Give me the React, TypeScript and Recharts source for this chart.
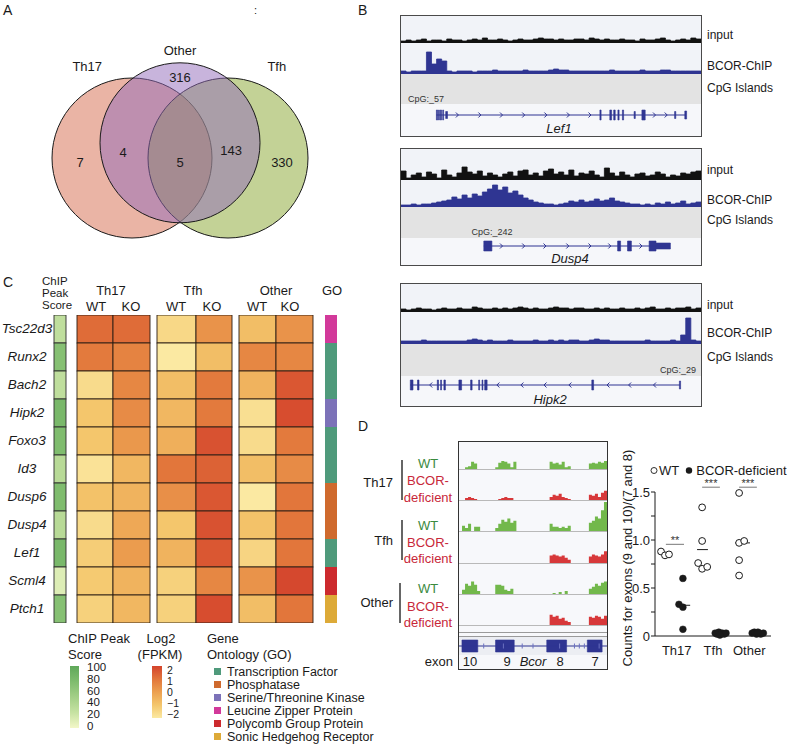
import React from "react";
import {
  AreaChart, Area, ComposedChart, ScatterChart, Scatter,
  XAxis, YAxis, ReferenceArea, ReferenceLine, ReferenceDot,
} from "recharts";

const FONT = '"Liberation Sans", Arial, Helvetica, sans-serif';
const NONE = { top: 0, right: 0, bottom: 0, left: 0 };
const INK = "#1a1a1a";
const BLUE = "#2f3592";
const GREEN = "#72b84b";
const RED = "#d7383a";

// ---------- A: Venn
const vennSets = ["Th17", "Tfh", "Other"];
const vennCenters = [[-0.6, 0], [0.6, 0], [0, 0.19]];
const vennFills = ["#d5694b", "#87a52d", "#9169b9"];
const vennLabelPos = [[-1.16, 1.15], [1.21, 1.15], [0, 1.34]];
const vennCounts = ["7", "4", "5", "143", "330", "316"];
const vennCountPos = [[-1.25, -0.05], [-0.71, 0.075], [0, -0.06], [0.64, 0.09], [1.275, -0.05], [0, 1.01]];

// ---------- B: tracks (bins across the locus)
const lef1Input = [2,3,2,3,4,2,3,3,2,4,3,3,2,3,4,3,5,3,3,4,3,2,3,4,3,3,4,5,4,4,3,4,3,3,4,4,3,5,4,3,4,3,3,4,3,3,2,4,3,3,4,5,3,2,3,4,3,5,4,4];
const lef1Chip = [3,2,3,3,3,22,10,15,13,3,2,3,3,3,2,3,3,3,4,3,3,3,3,3,4,3,3,3,3,4,5,4,4,3,3,3,3,3,3,3,3,4,3,3,3,3,3,4,3,3,3,4,4,3,3,3,3,3,3,3];
const lef1Cpg = [[0.083, 0.088], [0.118, 0.13]];
const lef1Intron = [0.118, 0.95];
const lef1Exons = [[0.118,0.122,1],[0.125,0.128,1],[0.131,0.135,1],[0.139,0.142,1],[0.149,0.155,0.7],[0.663,0.667,1],[0.696,0.702,1],[0.709,0.714,1],[0.723,0.727,1],[0.738,0.742,1],[0.777,0.781,0.7],[0.803,0.814,1],[0.912,0.916,0.7],[0.946,0.952,0.8]];
const lef1Marks = [0.188,0.263,0.335,0.409,0.483,0.558,0.63,0.845,0.884];

const dusp4Input = [9,2,5,7,3,8,6,2,10,5,3,7,13,8,6,9,4,7,5,3,6,8,4,9,10,5,7,4,9,11,6,8,5,10,4,7,6,9,5,3,12,7,4,8,5,3,6,7,4,5,8,6,3,5,4,7,6,8,9,5];
const dusp4Chip = [2,2,3,2,3,3,4,5,6,7,10,8,12,9,13,11,15,18,22,17,20,14,16,12,9,7,5,4,3,3,2,3,4,6,5,7,5,6,8,6,7,9,6,5,4,3,3,2,3,2,4,3,5,3,4,6,3,4,5,4];
const dusp4Cpg = [[0.224, 0.385]];
const dusp4Intron = [0.276, 0.895];
const dusp4Exons = [[0.276,0.303,1],[0.722,0.732,1],[0.755,0.768,1],[0.827,0.85,1],[0.85,0.898,0.6]];
const dusp4Marks = [0.335,0.409,0.48,0.556,0.63,0.696,0.8];

const hipk2Input = [3,2,3,4,3,3,2,3,4,3,3,4,3,3,5,4,3,3,4,3,4,3,4,5,4,3,4,3,3,4,5,4,4,3,4,4,3,3,4,3,4,3,3,4,3,3,4,3,4,5,3,3,4,3,4,4,5,3,4,3];
const hipk2Chip = [3,3,3,3,4,3,3,3,3,3,3,3,3,4,5,4,3,4,3,3,3,4,3,3,3,3,4,3,3,4,3,4,3,4,4,3,3,4,5,4,4,3,3,3,3,3,3,3,4,3,3,3,3,4,3,9,26,4,3,3];
const hipk2Cpg = [[0.928, 0.933]];
const hipk2Intron = [0.031, 0.93];
const hipk2Exons = [[0.031,0.04,1],[0.055,0.06,1],[0.121,0.125,1],[0.132,0.135,1],[0.143,0.148,1],[0.193,0.202,1],[0.232,0.237,1],[0.259,0.262,1],[0.27,0.273,1],[0.279,0.287,1],[0.636,0.642,1],[0.928,0.932,0.8]];
const hipk2Marks = [0.099,0.323,0.403,0.48,0.563,0.69,0.762,0.845];

// ---------- C: heatmap
const genes = ["Tsc22d3","Runx2","Bach2","Hipk2","Foxo3","Id3","Dusp6","Dusp4","Lef1","Scml4","Ptch1"];
const chipScore = [30,70,30,80,75,35,75,35,80,12,70];
const th17Wt = [1.2,0.9,-1.6,-1.0,-1.0,-1.8,-0.9,-1.6,-1.2,-1.1,-1.3];
const th17Ko = [1.2,0.7,0.6,0.5,0.2,-0.6,-0.5,-0.2,0.1,-0.5,-0.6];
const tfhWt = [-1.5,-2.0,-0.8,-0.6,-0.4,1.0,0.4,-1.0,-0.5,-1.3,-1.3];
const tfhKo = [0.3,-0.8,0.9,0.9,1.7,1.4,1.6,1.7,1.6,0.6,1.8];
const otherWt = [-0.8,0.6,-0.5,-1.7,-1.6,-0.8,-2.0,-0.9,-1.4,0.3,-0.8];
const otherKo = [0.3,0.6,1.6,1.8,0.9,0.5,1.0,1.0,1.0,1.9,1.0];
const goTerms = ["Transcription Factor","Phosphatase","Serine/Threonine Kinase","Leucine Zipper Protein","Polycomb Group Protein","Sonic Hedgehog Receptor"];
const goColors = ["#4f9a7b","#cf6a2e","#7c72b8","#d2399a","#cc2a2e","#ddaa38"];
const geneGo = [3,0,0,2,0,0,1,1,0,4,5];
const chipTicks = ["100","80","60","40","20","0"];
const log2Ticks = ["2","1","0","\u22121","\u22122"];

// ---------- D: Bcor coverage (bins across exons 10..7)
const th17WtCov = [0,0,2,3,8,6,0,0,0,0,0,0,2,7,9,8,6,2,8,0,0,0,0,0,0,0,0,0,0,0,8,6,7,5,8,2,3,0,0,0,0,0,0,6,7,6,8,7,9,0];
const th17KoCov = [0,0,2,3,2,1,0,0,0,0,0,0,0,1,2,3,2,2,0,0,0,0,0,0,0,0,0,0,0,0,3,5,4,6,3,2,1,0,0,0,0,0,0,5,4,6,3,7,9,0];
const tfhWtCov = [0,5,3,7,0,4,4,0,0,0,0,0,3,7,11,9,12,8,10,0,0,0,0,0,0,0,0,0,0,0,7,4,4,3,4,3,5,0,0,0,0,0,0,8,10,14,12,20,28,0];
const tfhKoCov = [0,0,0,0,0,0,0,0,0,0,0,0,0,0,0,0,0,0,0,0,0,0,0,0,0,0,0,0,0,0,7,8,7,6,7,5,3,0,0,0,0,0,0,6,8,7,6,8,11,0];
const otherWtCov = [0,4,10,8,12,9,3,0,0,0,0,0,9,9,8,4,3,5,0,0,0,0,0,0,0,0,0,0,0,0,0,1,0,2,0,3,0,0,0,0,0,0,0,5,7,10,8,11,12,0];
const otherKoCov = [0,0,0,0,0,0,0,0,0,0,0,0,0,0,0,0,0,0,0,0,0,0,0,0,0,0,0,0,0,0,10,8,9,6,7,4,3,0,0,0,0,0,0,8,7,9,8,6,9,0];
const bcorExons = [[0.02,0.127,1.2],[0.247,0.373,1.2],[0.593,0.727,1.2],[0.867,0.967,1.2]];
const bcorMarks = [0.167,0.3,0.427,0.5,0.68,0.78,0.813,0.847,0.947];
const exonNames = ["10","9","8","7"];

// ---------- D: exon ratio scatter
const dGroups = ["Th17","Tfh","Other"];
const wtPoints = [[0.566,0.88],[0.676,0.84],[0.786,0.85],[1.59,0.76],[1.70,0.70],[1.84,0.72],[1.70,0.99],[1.70,1.34],[2.72,1.49],[2.72,0.97],[2.86,0.99],[2.72,0.79],[2.72,0.63]];
const koPoints = [[1.17,0.60],[1.06,0.33],[1.17,0.30],[1.17,0.07],[2.06,0.03],[2.11,0.02],[2.16,0.04],[2.21,0.02],[2.26,0.03],[2.31,0.02],[2.36,0.03],[2.19,0.01],[3.08,0.03],[3.14,0.04],[3.2,0.02],[3.26,0.03],[3.32,0.02],[3.39,0.03],[3.24,0.04]];
const medians = [[0.48,0.87,0.86],[1.09,1.37,0.32],[1.56,1.86,0.90],[2.61,3.02,0.97]];
const sigBars = [[0.70,1.20,0.955,"**"],[1.70,2.19,1.55,"***"],[2.72,3.21,1.55,"***"]];

// ---------- helpers
function hex(c: string) {
  return [1, 3, 5].map((i) => parseInt(c.slice(i, i + 2), 16));
}
function ramp(stops: string[], t: number) {
  const tt = Math.max(0, Math.min(1, t)) * (stops.length - 1);
  const i = Math.min(stops.length - 2, Math.floor(tt));
  const f = tt - i;
  const a = hex(stops[i]), b = hex(stops[i + 1]);
  return `rgb(${a.map((v, k) => Math.round(v + (b[k] - v) * f)).join(",")})`;
}
const LOG2_STOPS = ["#fbe9a2", "#f4c66c", "#eca050", "#e2763b", "#d4432c"];
const CHIP_STOPS = ["#f3f7c8", "#c6e2a2", "#a3cf87", "#7fbc6e", "#5fa85a"];

function Txt({ x, y, children, anchor = "start", size = 13, color = INK, italic = false }: any) {
  const tx = anchor === "middle" ? "-50%" : anchor === "end" ? "-100%" : "0";
  return (
    <div style={{ position: "absolute", left: x, top: y, transform: `translate(${tx}, -50%)`, fontSize: size, color, fontStyle: italic ? "italic" : "normal", whiteSpace: "nowrap", lineHeight: 1 }}>
      {children}
    </div>
  );
}

function Abs({ x, y, children }: any) {
  return <div style={{ position: "absolute", left: x, top: y }}>{children}</div>;
}

// ---------- Venn
const VENN_W = 360, VENN_H = 250;
const VENN_X = [-2.25, 2.25], VENN_Y = [-1.15, 1.975];
const VENN_R = VENN_W / (VENN_X[1] - VENN_X[0]);

function VennCircle(p: any) {
  return <circle cx={p.cx} cy={p.cy} r={VENN_R} fill={p.payload.fill} fillOpacity={0.5} stroke={INK} strokeWidth={1} />;
}
function PointText(p: any) {
  return (
    <text x={p.cx} y={p.cy} textAnchor="middle" dominantBaseline="central" fontSize={13} fill={INK} fontFamily={FONT}>
      {p.payload.label}
    </text>
  );
}

function Venn() {
  const circles = vennSets.map((s, i) => ({ x: vennCenters[i][0], y: vennCenters[i][1], fill: vennFills[i] }));
  const names = vennSets.map((s, i) => ({ x: vennLabelPos[i][0], y: vennLabelPos[i][1], label: s }));
  const counts = vennCounts.map((c, i) => ({ x: vennCountPos[i][0], y: vennCountPos[i][1], label: c }));
  return (
    <ScatterChart width={VENN_W} height={VENN_H} margin={NONE}>
      <XAxis type="number" dataKey="x" domain={VENN_X} hide />
      <YAxis type="number" dataKey="y" domain={VENN_Y} hide />
      <Scatter data={circles} shape={VennCircle} isAnimationActive={false} />
      <Scatter data={names} shape={PointText} isAnimationActive={false} />
      <Scatter data={counts} shape={PointText} isAnimationActive={false} />
    </ScatterChart>
  );
}

// ---------- tracks
function Signal({ x, y, w, h, values, max, color, line = true }: any) {
  const data = values.map((v: number, i: number) => ({ i, v }));
  return (
    <Abs x={x} y={y}>
      <AreaChart width={w} height={h} data={data} margin={NONE}>
        <XAxis dataKey="i" type="number" domain={[0, values.length - 1]} hide />
        <YAxis type="number" domain={[0, max]} hide />
        <Area type="stepAfter" dataKey="v" stroke={line ? color : "none"} strokeWidth={0.8} fill={color} fillOpacity={1} isAnimationActive={false} dot={false} activeDot={false} />
      </AreaChart>
    </Abs>
  );
}

function Chevron(dir: number, color: string) {
  return (p: any) =>
    dir > 0 ? (
      <path d={`M${p.cx - 1.5},${p.cy - 2.5} L${p.cx + 1},${p.cy} L${p.cx - 1.5},${p.cy + 2.5}`} fill="none" stroke={color} strokeWidth={1} />
    ) : dir < 0 ? (
      <path d={`M${p.cx + 1.5},${p.cy - 2.5} L${p.cx - 1},${p.cy} L${p.cx + 1.5},${p.cy + 2.5}`} fill="none" stroke={color} strokeWidth={1} />
    ) : (
      <line x1={p.cx} x2={p.cx} y1={p.cy - 2.5} y2={p.cy + 2.5} stroke={color} strokeWidth={1} />
    );
}

function GeneModel({ x, y, w, h, intron, exons, marks, dir, markColor = BLUE }: any) {
  const pts = marks.map((m: number) => ({ x: m, y: 0 }));
  return (
    <Abs x={x} y={y}>
      <ComposedChart width={w} height={h} margin={NONE}>
        <XAxis dataKey="x" type="number" domain={[0, 1]} hide />
        <YAxis dataKey="y" type="number" domain={[-2.2, 2.2]} hide />
        <ReferenceLine segment={[{ x: intron[0], y: 0 }, { x: intron[1], y: 0 }]} stroke={BLUE} strokeWidth={1.2} />
        {exons.map((e: number[], i: number) => (
          <ReferenceArea key={i} x1={e[0]} x2={e[1]} y1={-e[2]} y2={e[2]} fill={BLUE} fillOpacity={1} stroke={BLUE} strokeWidth={0.6} />
        ))}
        <Scatter data={pts} shape={Chevron(dir, markColor)} isAnimationActive={false} />
      </ComposedChart>
    </Abs>
  );
}

function CpgBand({ x, y, w, h, blocks }: any) {
  return (
    <Abs x={x} y={y}>
      <ComposedChart width={w} height={h} margin={NONE}>
        <XAxis type="number" dataKey="x" domain={[0, 1]} hide />
        <YAxis type="number" domain={[0, 1]} hide />
        {blocks.map((b: number[], i: number) => (
          <ReferenceArea key={i} x1={b[0]} x2={b[1]} y1={0.55} y2={0.82} fill="#a2469c" fillOpacity={1} stroke="#a2469c" strokeWidth={0.6} />
        ))}
      </ComposedChart>
    </Abs>
  );
}

const B_LEFT = 400, B_W = 302;
const bBoxes = [
  { top: 15, bottom: 137, inB: 43, chipB: 74, cpgB: 104, lineY: 115, nameY: 128, nameX: 559, labelY: [35, 66, 88],
    input: lef1Input, chip: lef1Chip, cpg: lef1Cpg, cpgName: "CpG:_57", cpgAt: [408, 99, "start"],
    intron: lef1Intron, exons: lef1Exons, marks: lef1Marks, dir: 1, gene: "Lef1" },
  { top: 148, bottom: 266, inB: 180, chipB: 207, cpgB: 238, lineY: 246, nameY: 258, nameX: 570, labelY: [170, 200, 220],
    input: dusp4Input, chip: dusp4Chip, cpg: dusp4Cpg, cpgName: "CpG:_242", cpgAt: [492, 232, "middle"],
    intron: dusp4Intron, exons: dusp4Exons, marks: dusp4Marks, dir: 1, gene: "Dusp4" },
  { top: 283, bottom: 407, inB: 312, chipB: 344, cpgB: 376, lineY: 385, nameY: 399, nameX: 550, labelY: [305, 333, 357],
    input: hipk2Input, chip: hipk2Chip, cpg: hipk2Cpg, cpgName: "CpG:_29", cpgAt: [678, 370, "middle"],
    intron: hipk2Intron, exons: hipk2Exons, marks: hipk2Marks, dir: -1, gene: "Hipk2" },
];

function TrackBox({ b }: any) {
  const x = B_LEFT + 1, w = B_W - 2;
  return (
    <>
      <div style={{ position: "absolute", left: B_LEFT, top: b.top, width: B_W, height: b.bottom - b.top, background: "#f6f7fa" }} />
      <div style={{ position: "absolute", left: x, top: b.top, width: w, height: b.chipB - b.top, background: "#f1f3f8" }} />
      <div style={{ position: "absolute", left: x, top: b.chipB, width: w, height: b.cpgB - b.chipB, background: "#e3e3e3" }} />
      <Signal x={x} y={b.top + 1} w={w} h={b.inB - b.top - 1} values={b.input} max={b.inB - b.top - 1} color="#111" />
      <Signal x={x} y={b.inB} w={w} h={b.chipB - b.inB} values={b.chip} max={b.chipB - b.inB} color={BLUE} />
      <CpgBand x={x} y={b.chipB} w={w} h={b.cpgB - b.chipB} blocks={b.cpg} />
      <Txt x={b.cpgAt[0]} y={b.cpgAt[1]} anchor={b.cpgAt[2]} size={9} color="#333">{b.cpgName}</Txt>
      <GeneModel x={x} y={b.lineY - 11} w={w} h={22} intron={b.intron} exons={b.exons} marks={b.marks} dir={b.dir} />
      <Txt x={b.nameX} y={b.nameY} anchor="middle" italic size={13}>{b.gene}</Txt>
      <div style={{ position: "absolute", left: B_LEFT, top: b.top, width: B_W - 2, height: b.bottom - b.top - 2, border: "1px solid #4a4a4a" }} />
      <Txt x={707} y={b.labelY[0]} size={12}>input</Txt>
      <Txt x={707} y={b.labelY[1]} size={12}>BCOR-ChIP</Txt>
      <Txt x={707} y={b.labelY[2]} size={12}>CpG Islands</Txt>
    </>
  );
}

// ---------- heatmap
const HM_TOP = 315, HM_W = 340, HM_H = 308, ROW_H = HM_H / genes.length;
const HM_COLS = [
  { left: 54, w: 12 }, { left: 77, w: 36 }, { left: 113, w: 37 }, { left: 157, w: 39 },
  { left: 196, w: 36 }, { left: 239, w: 37 }, { left: 276, w: 37 }, { left: 325, w: 12 },
];

function HeatCell(p: any) {
  const d = p.payload;
  return <rect x={p.cx - d.w / 2} y={p.cy - ROW_H / 2} width={d.w} height={ROW_H} fill={d.fill} stroke={d.stroke} strokeWidth={d.stroke === "none" ? 0 : 0.9} />;
}

function Heatmap() {
  const exprCols = [th17Wt, th17Ko, tfhWt, tfhKo, otherWt, otherKo];
  const cells: any[] = [];
  genes.forEach((g, r) => {
    const y = r + 0.5;
    cells.push({ x: HM_COLS[0].left + HM_COLS[0].w / 2, y, w: HM_COLS[0].w, fill: ramp(CHIP_STOPS, chipScore[r] / 100), stroke: "#2e2e2e" });
    exprCols.forEach((col, c) => {
      const L = HM_COLS[c + 1];
      cells.push({ x: L.left + L.w / 2, y, w: L.w, fill: ramp(LOG2_STOPS, (col[r] + 2) / 4), stroke: "#2a1d14" });
    });
    const G = HM_COLS[7];
    cells.push({ x: G.left + G.w / 2, y, w: G.w, fill: goColors[geneGo[r]], stroke: "none" });
  });
  return (
    <ScatterChart width={HM_W} height={HM_H} margin={NONE}>
      <XAxis type="number" dataKey="x" domain={[0, HM_W]} hide />
      <YAxis type="number" dataKey="y" domain={[0, genes.length]} reversed hide />
      <Scatter data={cells} shape={HeatCell} isAnimationActive={false} />
    </ScatterChart>
  );
}

// ---------- D scatter
function OpenDot(p: any) {
  return <circle cx={p.cx} cy={p.cy} r={3.4} fill="#fff" stroke={INK} strokeWidth={1} />;
}
function FullDot(p: any) {
  return <circle cx={p.cx} cy={p.cy} r={3.4} fill={INK} stroke={INK} strokeWidth={0.5} />;
}
function Stars(label: string) {
  return (p: any) => (
    <text x={p.cx} y={p.cy} textAnchor="middle" fontSize={11} fill="#333" fontFamily={FONT}>{label}</text>
  );
}

function RatioPlot() {
  const wt = wtPoints.map(([x, y]) => ({ x, y }));
  const ko = koPoints.map(([x, y]) => ({ x, y }));
  return (
    <ScatterChart width={189} height={200} margin={{ top: 22, right: 18, bottom: 9, left: 25 }}>
      <XAxis type="number" dataKey="x" domain={[0.4, 3.6]} ticks={[1, 2, 3]} interval={0}
        tickFormatter={(v: number) => dGroups[v - 1]} tickLine={false} axisLine={{ stroke: INK }}
        height={25} tick={{ fontSize: 13, fill: INK }} tickMargin={4} />
      <YAxis type="number" dataKey="y" domain={[0, 1.5]} ticks={[0, 0.25, 0.5, 0.75, 1, 1.25, 1.5]} interval={0}
        tickFormatter={(v: number) => (v === 0 ? "0" : v % 0.5 === 0 ? v.toFixed(1) : "")}
        width={30} tickSize={4} tickMargin={1} axisLine={{ stroke: INK }} tickLine={{ stroke: INK }}
        tick={{ fontSize: 13, fill: INK }} />
      {medians.map((m, i) => (
        <ReferenceLine key={"m" + i} segment={[{ x: m[0], y: m[2] }, { x: m[1], y: m[2] }]} stroke={INK} strokeWidth={1} />
      ))}
      {sigBars.map((s, i) => (
        <ReferenceLine key={"s" + i} segment={[{ x: s[0] as number, y: s[2] as number }, { x: s[1] as number, y: s[2] as number }]} stroke="#777" strokeWidth={1} ifOverflow="visible" />
      ))}
      {sigBars.map((s, i) => (
        <ReferenceDot key={"t" + i} x={((s[0] as number) + (s[1] as number)) / 2} y={s[2] as number} r={0} ifOverflow="visible" shape={Stars(s[3] as string)} />
      ))}
      <Scatter data={wt} shape={OpenDot} isAnimationActive={false} />
      <Scatter data={ko} shape={FullDot} isAnimationActive={false} />
    </ScatterChart>
  );
}

const D_LEFT = 458, D_W = 150;
const D_TRACK_Y = [442, 469, 500, 531, 563, 594, 625];
const dTracks = [
  { values: th17WtCov, color: GREEN }, { values: th17KoCov, color: RED },
  { values: tfhWtCov, color: GREEN }, { values: tfhKoCov, color: RED },
  { values: otherWtCov, color: GREEN }, { values: otherKoCov, color: RED },
];
const dLabelGroups = [
  { name: "Th17", nameY: 482, line: [460, 500], lx: 401, ys: [463, 480, 497] },
  { name: "Tfh", nameY: 540, line: [520, 560], lx: 401, ys: [525, 542, 558] },
  { name: "Other", nameY: 602, line: [583, 623], lx: 399, ys: [588, 606, 622] },
];
const exonLabelX = [470, 507, 560, 595];

function PanelDTracks() {
  const x = D_LEFT + 1, w = D_W - 2;
  return (
    <>
      <div style={{ position: "absolute", left: D_LEFT, top: 441, width: D_W, height: 229, background: "#f7f8fb" }} />
      <div style={{ position: "absolute", left: x, top: 637, width: w, height: 18, background: "#eceef3" }} />
      {dTracks.map((t, i) => (
        <React.Fragment key={i}>
          <Signal x={x} y={D_TRACK_Y[i]} w={w} h={D_TRACK_Y[i + 1] - D_TRACK_Y[i]} values={t.values} max={30} color={t.color} line={false} />
          <div style={{ position: "absolute", left: x, top: D_TRACK_Y[i + 1], width: w, height: 1, background: "#b9b9b9" }} />
        </React.Fragment>
      ))}
      <div style={{ position: "absolute", left: x, top: 632, width: w, height: 1, background: "#9a9a9a" }} />
      <div style={{ position: "absolute", left: x, top: 636, width: w, height: 1, background: "#9a9a9a" }} />
      <GeneModel x={x} y={635} w={w} h={22} intron={[0, 1]} exons={bcorExons} marks={bcorMarks} dir={0} markColor="#6a70c0" />
      {exonNames.map((n, i) => (
        <Txt key={n} x={exonLabelX[i]} y={661} anchor="middle" size={13}>{n}</Txt>
      ))}
      <Txt x={533} y={661} anchor="middle" size={13} italic>Bcor</Txt>
      <Txt x={453} y={661} anchor="end" size={13}>exon</Txt>
      <div style={{ position: "absolute", left: D_LEFT, top: 441, width: D_W - 2, height: 227, border: "1px solid #333" }} />
      {dLabelGroups.map((g) => (
        <React.Fragment key={g.name}>
          <Txt x={393} y={g.nameY} anchor="end" size={13}>{g.name}</Txt>
          <div style={{ position: "absolute", left: g.lx, top: g.line[0], width: 1.5, height: g.line[1] - g.line[0], background: "#666" }} />
          <Txt x={428} y={g.ys[0]} anchor="middle" size={13} color="#3b8a3e">WT</Txt>
          <Txt x={428} y={g.ys[1]} anchor="middle" size={13} color="#c8283a">BCOR-</Txt>
          <Txt x={428} y={g.ys[2]} anchor="middle" size={13} color="#c8283a">deficient</Txt>
        </React.Fragment>
      ))}
    </>
  );
}

export default function App() {
  const headerCols = [
    { t: "Th17", x: 111 }, { t: "Tfh", x: 193 }, { t: "Other", x: 276 },
  ];
  const wtko = [96, 131, 176, 212, 257, 290];
  return (
    <div style={{ position: "absolute", left: 0, top: 0, width: 789, height: 744, background: "#fff", fontFamily: FONT, color: INK, overflow: "hidden" }}>
      <Txt x={3} y={10} size={14}>A</Txt>
      <Txt x={358} y={10} size={14}>B</Txt>
      <Txt x={254} y={10} size={11}>:</Txt>
      <Txt x={3} y={282} size={14}>C</Txt>
      <Txt x={358} y={426} size={14}>D</Txt>

      <Abs x={0} y={0}><Venn /></Abs>

      {bBoxes.map((b, i) => <TrackBox key={i} b={b} />)}

      {/* C headers */}
      <Txt x={42} y={282} size={11.5}>ChIP</Txt>
      <Txt x={42} y={294} size={11.5}>Peak</Txt>
      <Txt x={42} y={306} size={11.5}>Score</Txt>
      {headerCols.map((h) => <Txt key={h.t} x={h.x} y={290} anchor="middle" size={13}>{h.t}</Txt>)}
      {wtko.map((x, i) => <Txt key={i} x={x} y={306} anchor="middle" size={13}>{i % 2 ? "KO" : "WT"}</Txt>)}
      <Txt x={332} y={290} anchor="middle" size={13}>GO</Txt>
      {genes.map((g, r) => (
        <Txt key={g} x={27} y={HM_TOP + ROW_H * (r + 0.5)} anchor="middle" size={13.5} italic>{g}</Txt>
      ))}
      <Abs x={0} y={HM_TOP}><Heatmap /></Abs>

      {/* C legends */}
      <Txt x={68} y={638} size={13}>ChIP Peak</Txt>
      <Txt x={68} y={654} size={13}>Score</Txt>
      <div style={{ position: "absolute", left: 70, top: 666, width: 9, height: 62, background: `linear-gradient(to top, ${CHIP_STOPS.join(",")})` }} />
      {chipTicks.map((t, i) => <Txt key={t} x={87} y={668 + i * 11.8} size={11.5}>{t}</Txt>)}
      <Txt x={161} y={638} anchor="middle" size={13}>Log2</Txt>
      <Txt x={160} y={654} anchor="middle" size={13}>(FPKM)</Txt>
      <div style={{ position: "absolute", left: 152, top: 666, width: 10, height: 52, background: `linear-gradient(to top, ${LOG2_STOPS.join(",")})` }} />
      {log2Ticks.map((t, i) => <Txt key={t} x={167} y={670 + i * 11} size={10.5}>{t}</Txt>)}
      <Txt x={207} y={638} size={13}>Gene</Txt>
      <Txt x={207} y={654} size={13}>Ontology (GO)</Txt>
      {goTerms.map((t, i) => (
        <React.Fragment key={t}>
          <div style={{ position: "absolute", left: 214, top: 668 + i * 12.9, width: 7, height: 7, background: goColors[i] }} />
          <Txt x={227} y={672 + i * 12.9} size={12.5}>{t}</Txt>
        </React.Fragment>
      ))}

      <PanelDTracks />

      {/* D scatter */}
      <Abs x={600} y={470}><RatioPlot /></Abs>
      <div style={{ position: "absolute", left: 650, top: 470, transform: "translateY(-50%)", fontSize: 13, whiteSpace: "nowrap", lineHeight: 1, display: "flex", alignItems: "center" }}>
        <svg width={8} height={8} style={{ marginRight: 1 }}><circle cx={4} cy={4} r={3} fill="#fff" stroke={INK} strokeWidth={0.9} /></svg>
        <span>WT</span>
        <svg width={9} height={8} style={{ marginLeft: 6, marginRight: 2 }}><circle cx={4} cy={4} r={3.2} fill={INK} /></svg>
        <span>BCOR-deficient</span>
      </div>
      <div style={{ position: "absolute", left: 627, top: 558, transform: "translate(-50%, -50%) rotate(-90deg)", fontSize: 13, whiteSpace: "nowrap", lineHeight: 1 }}>
        Counts for exons (9 and 10)/(7 and 8)
      </div>
    </div>
  );
}
